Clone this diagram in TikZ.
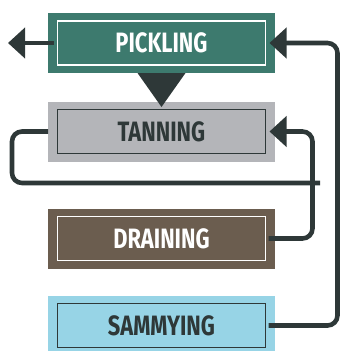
\documentclass[tikz,border=0pt]{standalone}
\usepackage{fontspec}
\newfontfamily\boxfont[FakeStretch=0.78]{Fira Sans}
\usetikzlibrary{arrows.meta}
\definecolor{pickc}{HTML}{3D7A6E}
\definecolor{tanc}{HTML}{B4B5B9}
\definecolor{drainc}{HTML}{6B5D4F}
\definecolor{sammc}{HTML}{97D4E6}
\definecolor{dk}{HTML}{2E3838}
\tikzset{
  outerbox/.style={minimum width=227pt, minimum height=60pt, inner sep=0pt, outer sep=0pt},
  innerbox/.style={minimum width=208pt, minimum height=44pt, draw, line width=1.7pt, inner sep=0pt, outer sep=0pt,
    font=\boxfont\bfseries\fontsize{28}{28}\selectfont},
  conn/.style={draw=dk, line width=4.6pt},
  tipend/.style={-{Triangle[length=17pt,width=30pt]}}
}
\begin{document}
\begin{tikzpicture}[x=1pt,y=-1pt]
\useasboundingbox (0,0) rectangle (342,351);
% boxes
\node[outerbox, fill=pickc] (pout) at (161.5,43) {};
\node[innerbox, draw=white, text=white] (pin) at (161.5,43) {PICKLING};
\node[outerbox, fill=tanc] (tout) at (161.5,131.5) {};
\node[innerbox, draw=dk, text=dk] (tin) at (161.5,131.5) {TANNING};
\node[outerbox, fill=drainc] (dout) at (161.5,238.5) {};
\node[innerbox, draw=white, text=white] (din) at (161.5,238.5) {DRAINING};
\node[outerbox, fill=sammc, minimum height=56pt] (sout) at (161.5,323.5) {};
\node[innerbox, draw=dk, text=dk] (sin) at (161.5,325.5) {SAMMYING};
% triangle
\fill[dk] ([xshift=-24pt]pout.south) -- ([xshift=24pt]pout.south) -- ([yshift=-34pt]pout.south) -- cycle;
% connectors
\coordinate (lefttip) at (8,43);
\draw[conn, tipend] ([xshift=-4pt]pin.west) -- (lefttip);
\draw[conn, tipend, rounded corners=10pt] ([xshift=3pt]sin.east) -- ++(69,0) |- ([xshift=4pt]pin.east);
\draw[conn, tipend, rounded corners=10pt] ([xshift=3pt]din.east) -- ++(44,0) |- ([xshift=4pt]tin.east);
\coordinate (loopend) at (320,183);
\draw[conn, rounded corners=10pt] (tout.west) -- ++(-36,0) |- (loopend);
\end{tikzpicture}
\end{document}
